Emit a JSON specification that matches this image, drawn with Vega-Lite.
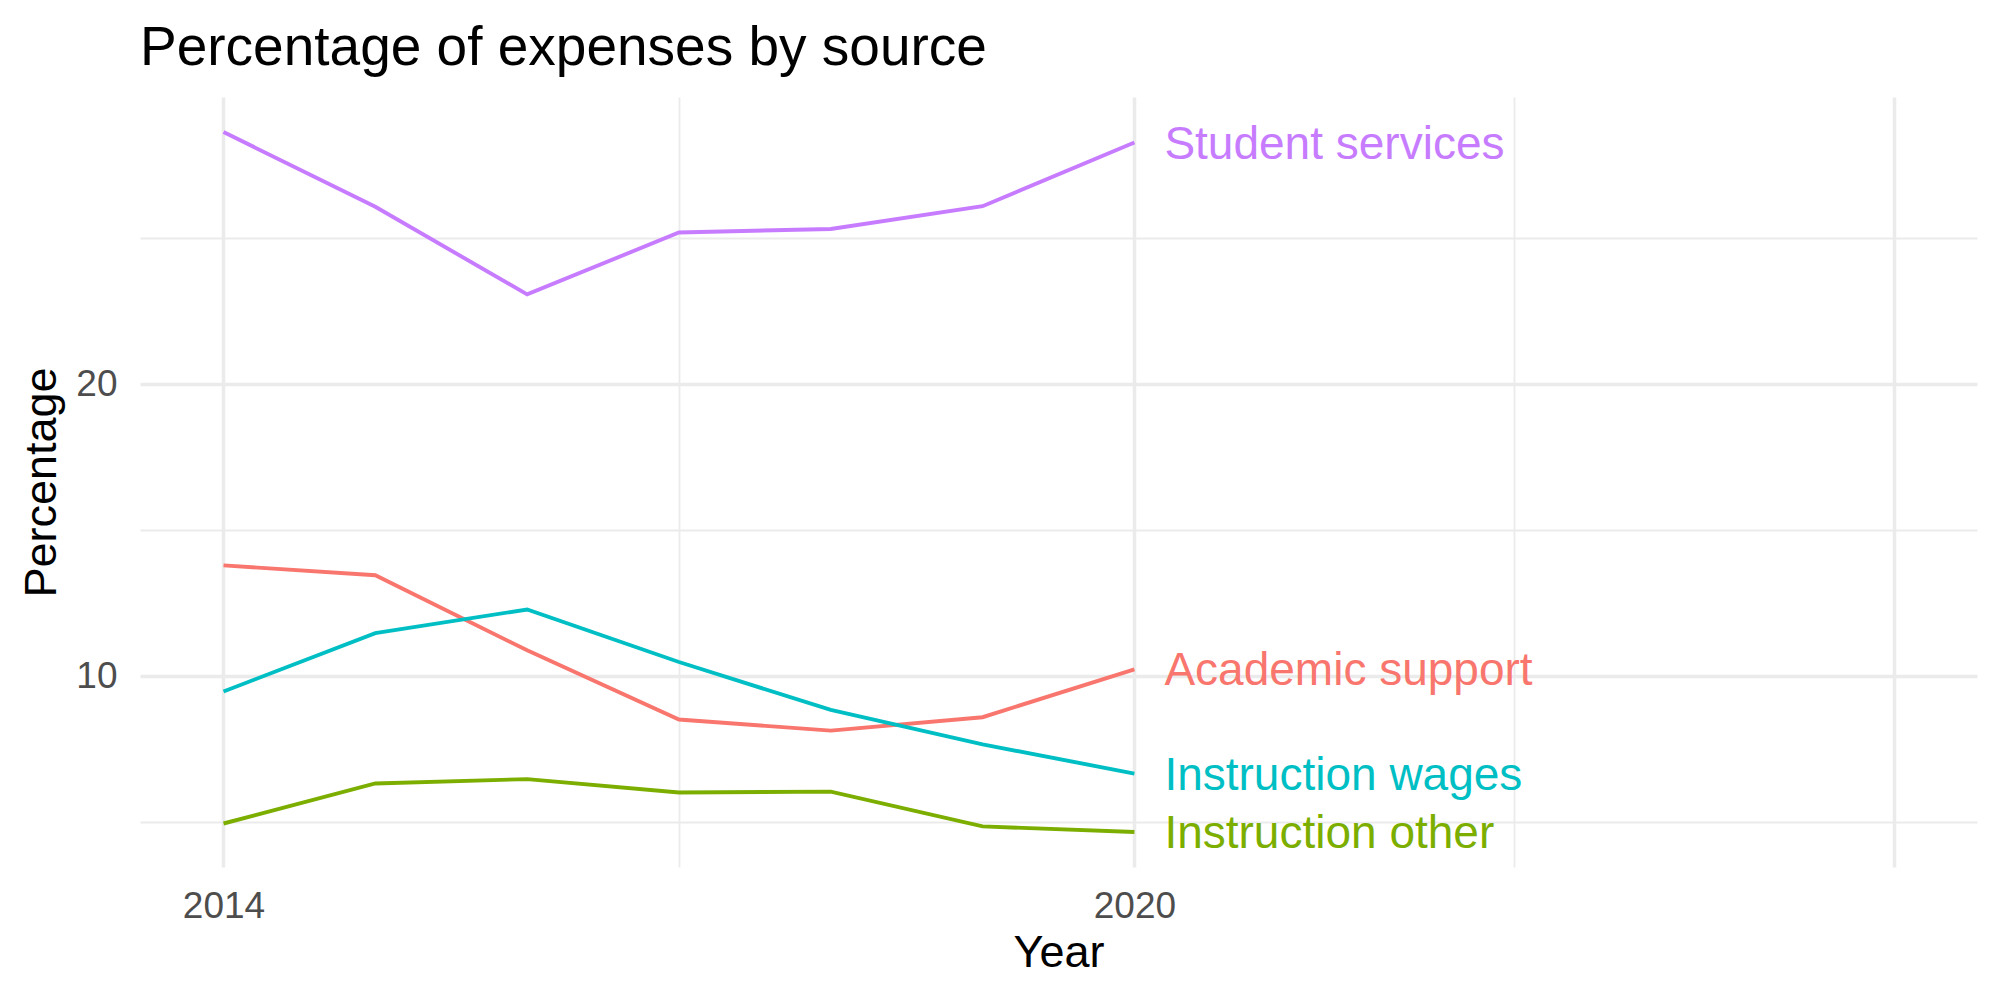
{
  "$schema": "https://vega.github.io/schema/vega-lite/v6.json",
  "autosize": {"type": "none"},
  "padding": {"left": 140, "top": 97, "right": 23, "bottom": 133},
  "width": 1837,
  "height": 770,
  "background": "white",
  "config": {
    "font": "Liberation Sans",
    "view": {"stroke": null}
  },
  "title": {
    "text": "Percentage of expenses by source",
    "anchor": "start",
    "frame": "group",
    "fontSize": 55,
    "fontWeight": "normal",
    "color": "black",
    "baseline": "alphabetic",
    "offset": -23
  },
  "data": {
    "values": [
      {"Year": 2014, "Source": "Academic support", "Percentage": 13.8},
      {"Year": 2015, "Source": "Academic support", "Percentage": 13.46},
      {"Year": 2016, "Source": "Academic support", "Percentage": 10.89},
      {"Year": 2017, "Source": "Academic support", "Percentage": 8.52},
      {"Year": 2018, "Source": "Academic support", "Percentage": 8.14},
      {"Year": 2019, "Source": "Academic support", "Percentage": 8.6},
      {"Year": 2020, "Source": "Academic support", "Percentage": 10.24},
      {"Year": 2014, "Source": "Instruction other", "Percentage": 4.96},
      {"Year": 2015, "Source": "Instruction other", "Percentage": 6.33},
      {"Year": 2016, "Source": "Instruction other", "Percentage": 6.48},
      {"Year": 2017, "Source": "Instruction other", "Percentage": 6.02},
      {"Year": 2018, "Source": "Instruction other", "Percentage": 6.05},
      {"Year": 2019, "Source": "Instruction other", "Percentage": 4.86},
      {"Year": 2020, "Source": "Instruction other", "Percentage": 4.67},
      {"Year": 2014, "Source": "Instruction wages", "Percentage": 9.48},
      {"Year": 2015, "Source": "Instruction wages", "Percentage": 11.48},
      {"Year": 2016, "Source": "Instruction wages", "Percentage": 12.29},
      {"Year": 2017, "Source": "Instruction wages", "Percentage": 10.49},
      {"Year": 2018, "Source": "Instruction wages", "Percentage": 8.85},
      {"Year": 2019, "Source": "Instruction wages", "Percentage": 7.67},
      {"Year": 2020, "Source": "Instruction wages", "Percentage": 6.67},
      {"Year": 2014, "Source": "Student services", "Percentage": 28.64},
      {"Year": 2015, "Source": "Student services", "Percentage": 26.08},
      {"Year": 2016, "Source": "Student services", "Percentage": 23.08},
      {"Year": 2017, "Source": "Student services", "Percentage": 25.2},
      {"Year": 2018, "Source": "Student services", "Percentage": 25.32},
      {"Year": 2019, "Source": "Student services", "Percentage": 26.1},
      {"Year": 2020, "Source": "Student services", "Percentage": 28.28}
    ]
  },
  "encoding": {
    "x": {
      "field": "Year",
      "type": "quantitative",
      "scale": {"domain": [2013.45, 2025.55], "nice": false, "zero": false},
      "axis": {
        "values": [2014, 2017, 2020, 2022.5, 2025],
        "labelExpr": "datum.value == 2014 || datum.value == 2020 ? format(datum.value, 'd') : ''",
        "labelFontSize": 37,
        "labelColor": "#4D4D4D",
        "labelPadding": 21,
        "labelFlush": false,
        "labelOverlap": false,
        "ticks": false,
        "domain": false,
        "grid": true,
        "gridColor": "#EBEBEB",
        "gridWidth": {"condition": {"test": "datum.value == 2017 || datum.value == 2022.5", "value": 1.8}, "value": 3.5},
        "title": "Year",
        "titleFontSize": 45,
        "titleFontWeight": "normal",
        "titleColor": "black",
        "titleBaseline": "alphabetic",
        "titleY": 99
      }
    },
    "y": {
      "field": "Percentage",
      "type": "quantitative",
      "scale": {"domain": [3.47, 29.84], "nice": false, "zero": false},
      "axis": {
        "values": [5, 10, 15, 20, 25],
        "labelExpr": "datum.value == 10 || datum.value == 20 ? format(datum.value, 'd') : ''",
        "labelFontSize": 37,
        "labelColor": "#4D4D4D",
        "labelPadding": 23,
        "labelFlush": false,
        "labelOverlap": false,
        "ticks": false,
        "domain": false,
        "grid": true,
        "gridColor": "#EBEBEB",
        "gridWidth": {"condition": {"test": "datum.value == 5 || datum.value == 15 || datum.value == 25", "value": 1.8}, "value": 3.5},
        "title": "Percentage",
        "titleFontSize": 45,
        "titleFontWeight": "normal",
        "titleColor": "black",
        "titleAngle": -90,
        "titleAlign": "center",
        "titleBaseline": "alphabetic",
        "titleX": -85,
        "titleY": 385
      }
    },
    "color": {
      "field": "Source",
      "type": "nominal",
      "scale": {
        "domain": ["Academic support", "Instruction other", "Instruction wages", "Student services"],
        "range": ["#F8766D", "#7CAE00", "#00BFC4", "#C77CFF"]
      },
      "legend": null
    }
  },
  "layer": [
    {
      "mark": {"type": "line", "strokeWidth": 3.9}
    },
    {
      "transform": [{"filter": "datum.Year == 2020"}],
      "mark": {"type": "text", "align": "left", "baseline": "middle", "dx": 30, "dy": 2, "fontSize": 46},
      "encoding": {
        "text": {"field": "Source", "type": "nominal"}
      }
    }
  ]
}
